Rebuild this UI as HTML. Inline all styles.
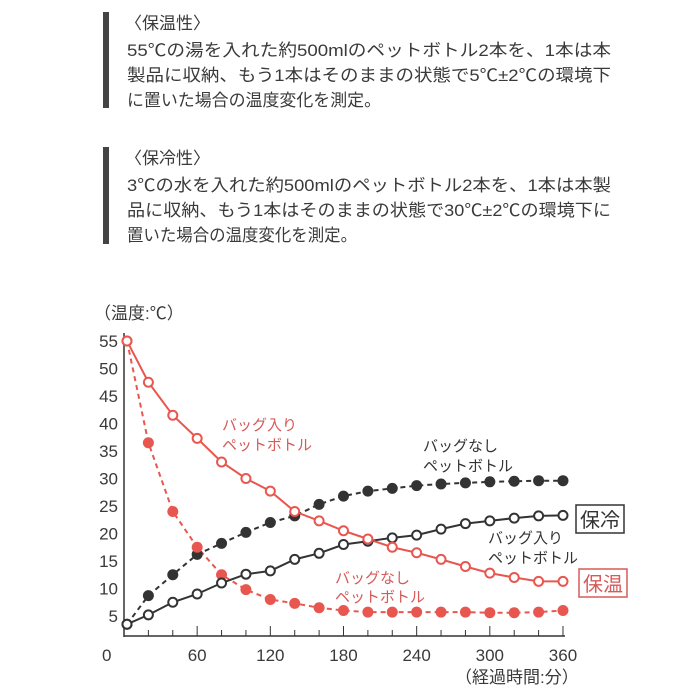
<!DOCTYPE html>
<html><head><meta charset="utf-8"><style>
html,body{margin:0;padding:0;background:#fff;}
svg{display:block;font-family:"Liberation Sans","Noto Sans CJK JP",sans-serif;}
</style></head><body>
<svg id="s" width="700" height="700" viewBox="0 0 700 700" xmlns="http://www.w3.org/2000/svg">
<rect width="700" height="700" fill="#fff"/>
<rect x="103" y="12" width="6" height="96" fill="#444"/>
<rect x="103" y="147" width="6" height="97" fill="#444"/>
<g fill="#3a3a3a" font-size="17">
<text x="125" y="29">〈保温性〉</text>
<text x="127" y="56" textLength="484" lengthAdjust="spacingAndGlyphs">55℃の湯を入れた約500mlのペットボトル2本を、1本は本</text>
<text x="127" y="81" textLength="484" lengthAdjust="spacingAndGlyphs">製品に収納、もう1本はそのままの状態で5℃±2℃の環境下</text>
<text x="127" y="106" textLength="254" lengthAdjust="spacingAndGlyphs">に置いた場合の温度変化を測定。</text>
<text x="125" y="164">〈保冷性〉</text>
<text x="127" y="191" textLength="484" lengthAdjust="spacingAndGlyphs">3℃の水を入れた約500mlのペットボトル2本を、1本は本製</text>
<text x="127" y="216" textLength="484" lengthAdjust="spacingAndGlyphs">品に収納、もう1本はそのままの状態で30℃±2℃の環境下に</text>
<text x="127" y="241" textLength="230" lengthAdjust="spacingAndGlyphs">置いた場合の温度変化を測定。</text>
</g>
<g fill="#3a3a3a" font-size="17">
<text x="94" y="319">（温度:℃）</text>
<text x="455" y="683">（経過時間:分）</text>
</g>
<line x1="124" y1="333" x2="124" y2="637" stroke="#333" stroke-width="1.5"/>
<line x1="124" y1="636" x2="565" y2="636" stroke="#333" stroke-width="1.5"/>
<g id="ticks"></g>
<g id="series"></g>
<g font-size="15" fill="#d65a5a">
<text x="222" y="430">バッグ入り</text><text x="222" y="450">ペットボトル</text>
<text x="335" y="583">バッグなし</text><text x="335" y="602">ペットボトル</text>
</g>
<g font-size="15" fill="#333">
<text x="423" y="451">バッグなし</text><text x="423" y="471">ペットボトル</text>
<text x="488" y="543">バッグ入り</text><text x="488" y="563">ペットボトル</text>
</g>
<rect x="576" y="505" width="48" height="28" fill="#fff" stroke="#333" stroke-width="1.5"/>
<text x="580" y="527" font-size="20" fill="#333">保冷</text>
<rect x="579" y="569" width="48" height="28" fill="#fff" stroke="#d65a5a" stroke-width="1.5"/>
<text x="583" y="591" font-size="20" fill="#d65a5a">保温</text>
</svg>
<script>
var NS="http://www.w3.org/2000/svg";
function X(t){return (t==0?127:124+t*1.2194);}
function Y(v){return 616-(v-5)*5.5;}
function el(n,a,p){var e=document.createElementNS(NS,n);for(var k in a)e.setAttribute(k,a[k]);p.appendChild(e);return e;}
var tk=document.getElementById("ticks");
for(var v=5;v<=55;v+=5){el("text",{x:118,y:Y(v)+6,"font-size":17,fill:"#3a3a3a","text-anchor":"end"},tk).textContent=v;}
el("text",{x:102,y:661,"font-size":17,fill:"#3a3a3a"},tk).textContent="0";
for(var t=20;t<=360;t+=20){el("line",{x1:X(t),y1:636,x2:X(t),y2:(t%60==0?626:630),stroke:"#333","stroke-width":1},tk);}
for(var t=60;t<=360;t+=60){el("text",{x:X(t),y:661,"font-size":17,fill:"#3a3a3a","text-anchor":"middle"},tk).textContent=t;}
var R="#e8574f",K="#333";
var S=[
{c:K,d:true,f:true,v:[3.5,8.7,12.5,16.2,18.2,20.2,22,23.2,25.3,26.8,27.7,28.2,28.7,29,29.2,29.4,29.5,29.6,29.6]},
{c:R,d:true,f:true,v:[55,36.5,24,17.5,12.5,9.8,8,7.3,6.5,6,5.7,5.7,5.7,5.7,5.7,5.6,5.6,5.7,6]},
{c:K,d:false,f:false,v:[3.5,5.2,7.5,9,11,12.6,13.2,15.3,16.4,18,18.6,19.2,19.7,20.8,21.8,22.3,22.8,23.2,23.3]},
{c:R,d:false,f:false,v:[55,47.5,41.5,37.3,33,30,27.7,24,22.3,20.5,19,17.5,16.5,15.3,14,12.8,12,11.3,11.3]}
];
var g=document.getElementById("series");
S.forEach(function(s){
 var pts=s.v.map(function(v,i){return X(i*20)+","+Y(v);}).join(" ");
 var a={points:pts,fill:"none",stroke:s.c,"stroke-width":2};
 if(s.d)a["stroke-dasharray"]="5,4";
 el("polyline",a,g);
});
S.forEach(function(s){
 s.v.forEach(function(v,i){
  if(s.f)el("circle",{cx:X(i*20),cy:Y(v),r:5.5,fill:s.c},g);
  else el("circle",{cx:X(i*20),cy:Y(v),r:4.5,fill:"#fff",stroke:s.c,"stroke-width":2},g);
 });
});
</script>
</body></html>
